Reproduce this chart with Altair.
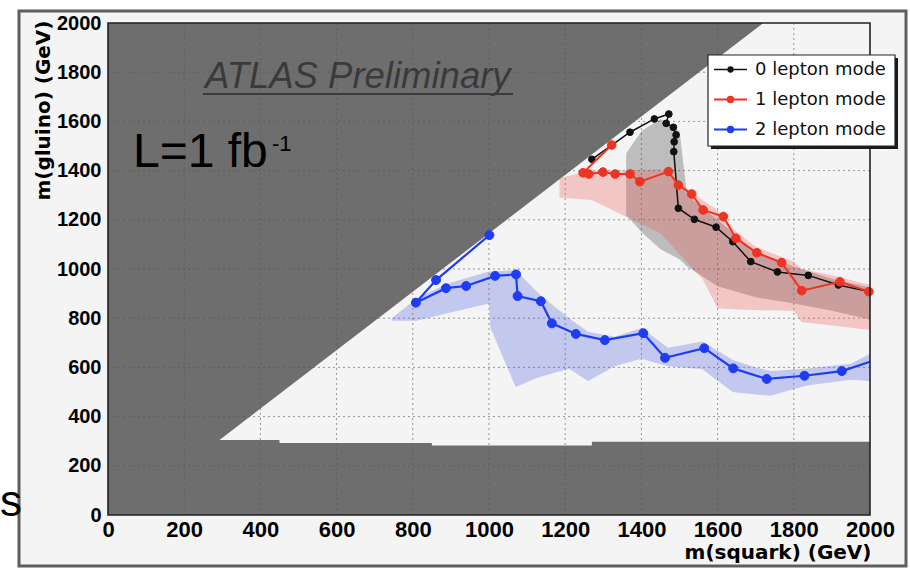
import altair as alt
import pandas as pd

# ---------------- data ----------------
SERIES = ["0 lepton mode", "1 lepton mode", "2 lepton mode"]
LINE_COLORS = ["#111111", "#ee3322", "#1f3cf5"]
BAND_COLORS = ["#303030", "#f05050", "#3f55e0"]

X_TICKS = [0, 200, 400, 600, 800, 1000, 1200, 1400, 1600, 1800, 2000]
Y_TICKS = [0, 200, 400, 600, 800, 1000, 1200, 1400, 1600, 1800, 2000]
GRID_VALUES = [200, 400, 600, 800, 1000, 1200, 1400, 1600, 1800]

# 0 lepton mode (m_squark, m_gluino)
sq0 = [1270, 1370, 1434, 1472, 1465, 1484, 1491, 1486, 1485, 1497, 1539, 1596, 1640, 1687, 1757, 1838, 1917, 1997]
gl0 = [1446, 1556, 1610, 1630, 1592, 1576, 1545, 1517, 1477, 1247, 1202, 1170, 1111, 1030, 988, 974, 935, 908]
# 1 lepton mode
sq1 = [1322, 1247, 1262, 1299, 1331, 1370, 1396, 1471, 1497, 1532, 1562, 1615, 1648, 1703, 1768, 1821, 1921, 1997]
gl1 = [1504, 1391, 1386, 1394, 1386, 1386, 1355, 1396, 1341, 1305, 1240, 1213, 1125, 1066, 1026, 912, 948, 908]
# 2 lepton mode
sq2 = [1001, 861, 808, 887, 940, 1016, 1071, 1075, 1136, 1165, 1228, 1304, 1405, 1462, 1565, 1641, 1729, 1828, 1926, 2000]
gl2 = [1138, 955, 863, 922, 931, 972, 978, 890, 869, 779, 736, 711, 739, 639, 678, 596, 553, 566, 585, 623]

# uncertainty bands (hatched in the original)
band0_x = [1360, 1400, 1450, 1500, 1520, 1600, 1700, 1800, 1900, 2000]
band0_hi = [1470, 1560, 1610, 1560, 1300, 1200, 1070, 1010, 960, 925]
band0_lo = [1220, 1150, 1080, 1040, 1010, 930, 885, 860, 830, 795]

band1_x = [1185, 1270, 1350, 1450, 1500, 1560, 1600, 1650, 1700, 1800, 1820, 1900, 2000]
band1_hi = [1370, 1400, 1400, 1405, 1350, 1280, 1240, 1150, 1090, 1030, 1000, 975, 935]
band1_lo = [1290, 1280, 1220, 1145, 1060, 960, 840, 835, 833, 830, 785, 770, 752]

band2_x = [745, 810, 890, 1000, 1004, 1070, 1130, 1210, 1260, 1330, 1400, 1470, 1560, 1640, 1700, 1740, 1830, 1950, 2000]
band2_hi = [800, 880, 940, 990, 990, 995, 900, 800, 745, 725, 760, 680, 705, 630, 600, 585, 595, 615, 655]
band2_lo = [790, 790, 820, 860, 760, 520, 560, 595, 545, 605, 635, 605, 592, 500, 490, 485, 525, 550, 545]

# excluded regions (grey)
excl_diag_x = [0, 291, 1720]
excl_diag_lo = [303, 303, 2000]
excl_floor_x = [0, 450, 850, 1270, 2000]
excl_floor_y = [305, 293, 283, 298, 298]

# ---------------- tables ----------------
rows = []
for s, xs_, ys_ in zip(SERIES, [sq0, sq1, sq2], [gl0, gl1, gl2]):
    for i, (a, b) in enumerate(zip(xs_, ys_)):
        rows.append({"series": s, "i": i, "x": a, "y": b})
lines_df = pd.DataFrame(rows)

brows = []
for s, bx, blo, bhi in zip(SERIES, [band0_x, band1_x, band2_x],
                           [band0_lo, band1_lo, band2_lo],
                           [band0_hi, band1_hi, band2_hi]):
    for a, lo, hi in zip(bx, blo, bhi):
        brows.append({"series": s, "x": a, "lo": lo, "hi": hi})
bands_df = pd.DataFrame(brows)

diag_df = pd.DataFrame({"x": excl_diag_x, "lo": excl_diag_lo})
floor_df = pd.DataFrame({"x": excl_floor_x, "y": excl_floor_y})
grid_df = pd.DataFrame({"v": GRID_VALUES})

# ---------------- layout ----------------
W, H = 762, 492
PAD = {"left": 108, "top": 23, "right": 40, "bottom": 55}
LAB_FONT = "Liberation Sans, Arial, sans-serif"
TIT_FONT = "DejaVu Sans, sans-serif"

axis_x = alt.Axis(values=X_TICKS, format="d", labelFlush=False, labelOverlap=False,
                  grid=False, domain=False, ticks=False, labelPadding=4, zindex=2,
                  labelFont=LAB_FONT, labelFontSize=22, labelFontWeight="bold", labelColor="#000",
                  title="m(squark) (GeV)", titleFont=TIT_FONT, titleFontSize=20,
                  titleFontWeight="bold", titleColor="#000", titleAnchor="end",
                  titleAlign="right", titleBaseline="alphabetic", titleX=763, titleY=43)
axis_y = alt.Axis(values=Y_TICKS, format="d", labelFlush=False, labelOverlap=False,
                  grid=False, domain=False, ticks=False, labelPadding=7, zindex=2,
                  labelFont=LAB_FONT, labelFontSize=20, labelFontWeight="bold", labelColor="#000",
                  title="m(gluino) (GeV)", titleFont=TIT_FONT, titleFontSize=20,
                  titleFontWeight="bold", titleColor="#000", titleAnchor="end",
                  titleAlign="right", titleBaseline="alphabetic", titleX=-59, titleY=-3)

xsc = alt.Scale(domain=[0, 2000], nice=False, zero=False)
ysc = alt.Scale(domain=[0, 2000], nice=False, zero=False)


def X(f):
    return alt.X(f, type="quantitative", scale=xsc, axis=axis_x)


def Y(f):
    return alt.Y(f, type="quantitative", scale=ysc, axis=axis_y)


stroke_scale = alt.Scale(domain=SERIES, range=LINE_COLORS)
one = alt.Data(values=[{}])

# white margins outside the slide frame and the frame itself
white_left = alt.Chart(one).mark_rect(fill="white").encode(
    x=alt.value(-108), x2=alt.value(-89), y=alt.value(-23), y2=alt.value(547))
white_top = alt.Chart(one).mark_rect(fill="white").encode(
    x=alt.value(-108), x2=alt.value(802), y=alt.value(-23), y2=alt.value(-12))
white_bottom = alt.Chart(one).mark_rect(fill="white").encode(
    x=alt.value(-108), x2=alt.value(802), y=alt.value(543), y2=alt.value(547))
white_right = alt.Chart(one).mark_rect(fill="white").encode(
    x=alt.value(798), x2=alt.value(802), y=alt.value(-23), y2=alt.value(547))
outer_frame = alt.Chart(one).mark_rect(fillOpacity=0, stroke="#5e5e5e", strokeWidth=3).encode(
    x=alt.value(-89), x2=alt.value(798), y=alt.value(-12), y2=alt.value(543))

excl_diag = alt.Chart(diag_df).mark_area(color="#6e6e6e", opacity=1).encode(
    x=X("x"), y=Y("lo"), y2=alt.datum(2000))
excl_floor = alt.Chart(floor_df).mark_area(color="#6e6e6e", opacity=1, interpolate="step-after").encode(
    x=X("x"), y=Y("y"), y2=alt.datum(0))

grid_v = alt.Chart(grid_df).mark_rule(color="#555", strokeWidth=0.8, strokeDash=[2, 3], opacity=0.75).encode(
    x=X("v"), y=alt.value(0), y2=alt.value(H))
grid_h = alt.Chart(grid_df).mark_rule(color="#555", strokeWidth=0.8, strokeDash=[2, 3], opacity=0.75).encode(
    y=Y("v"), x=alt.value(0), x2=alt.value(W))

bands = alt.Chart(bands_df).mark_area(opacity=0.28).encode(
    x=X("x"), y=Y("lo"), y2="hi:Q",
    color=alt.Color("series:N", scale=alt.Scale(domain=SERIES, range=BAND_COLORS), legend=None),
    detail="series:N")

LW = [1.5, 2.0, 2.2]
PS = [45, 75, 80]
series_layers = []
for s, lw, ps in zip(SERIES, LW, PS):
    base = alt.Chart(lines_df).transform_filter(alt.datum.series == s)
    ln = base.mark_line(strokeWidth=lw).encode(
        x=X("x"), y=Y("y"), order="i:Q",
        stroke=alt.Stroke("series:N", scale=stroke_scale, legend=None))
    pt = base.transform_filter(alt.datum.x < 2000).mark_point(
        filled=True, size=ps, strokeWidth=1, opacity=1).encode(
        x=X("x"), y=Y("y"),
        fill=alt.Fill("series:N", scale=stroke_scale, legend=None),
        stroke=alt.Stroke("series:N", scale=stroke_scale, legend=None))
    series_layers += [ln, pt]

# ---------------- legend box (drawn as marks) ----------------
legend_layers = [
    alt.Chart(one).mark_rect(fill="#1a1a1a").encode(
        x=alt.value(603), x2=alt.value(790), y=alt.value(35), y2=alt.value(126)),
    alt.Chart(one).mark_rect(fill="#ffffff", stroke="#222", strokeWidth=1.2).encode(
        x=alt.value(600), x2=alt.value(787), y=alt.value(32), y2=alt.value(123)),
]
LEG_ROW_Y = [46.5, 76.5, 106.5]
LEG_PS = [40, 55, 55]
for s, c, yc, ps, lw in zip(SERIES, LINE_COLORS, LEG_ROW_Y, LEG_PS, LW):
    legend_layers += [
        alt.Chart(one).mark_rule(color=c, strokeWidth=lw).encode(
            x=alt.value(606), x2=alt.value(639), y=alt.value(yc)),
        alt.Chart(one).mark_point(filled=True, color=c, size=ps, opacity=1).encode(
            x=alt.value(622.5), y=alt.value(yc)),
        alt.Chart(one).mark_text(text=s, font="DejaVu Sans, sans-serif", fontSize=18,
                                 color="#111", align="left", baseline="middle").encode(
            x=alt.value(647), y=alt.value(yc)),
    ]

atlas = alt.Chart(one).mark_text(text="ATLAS Preliminary", font="Liberation Sans, Arial, sans-serif",
                                 fontSize=36.5, fontStyle="italic", color="#3a3a3a",
                                 align="left", baseline="alphabetic").encode(
    x=alt.value(97), y=alt.value(65))
atlas_ul = alt.Chart(one).mark_rule(color="#3a3a3a", strokeWidth=2).encode(
    x=alt.value(95), x2=alt.value(405), y=alt.value(71))
lumi = alt.Chart(one).mark_text(text="L=1 fb", font="Liberation Sans, Arial, sans-serif",
                                fontSize=48, color="#000", align="left", baseline="alphabetic").encode(
    x=alt.value(25), y=alt.value(144))
lumi_sup = alt.Chart(one).mark_text(text="-1", font="Liberation Sans, Arial, sans-serif",
                                    fontSize=22, color="#000", align="left", baseline="alphabetic").encode(
    x=alt.value(164), y=alt.value(128))
s_text = alt.Chart(one).mark_text(text="s", font="Liberation Sans, Arial, sans-serif",
                                  fontSize=44, color="#000", align="right", baseline="alphabetic").encode(
    x=alt.value(-86), y=alt.value(493))

frame = alt.Chart(one).mark_rect(fillOpacity=0, stroke="#222", strokeWidth=1.6).encode(
    x=alt.value(0), x2=alt.value(W), y=alt.value(0), y2=alt.value(H))

chart = alt.layer(
    excl_diag, excl_floor, grid_v, grid_h, bands, *series_layers,
    atlas, atlas_ul, lumi, lumi_sup,
    white_left, white_top, white_bottom, white_right, outer_frame, s_text, frame,
    *legend_layers
).properties(
    width=W, height=H,
    autosize=alt.AutoSizeParams(type="none"),
    padding=PAD,
    background="#f4f4f4",
).configure_view(stroke=None)

chart.save("out.html", embed_options={"renderer": "svg", "actions": False})
